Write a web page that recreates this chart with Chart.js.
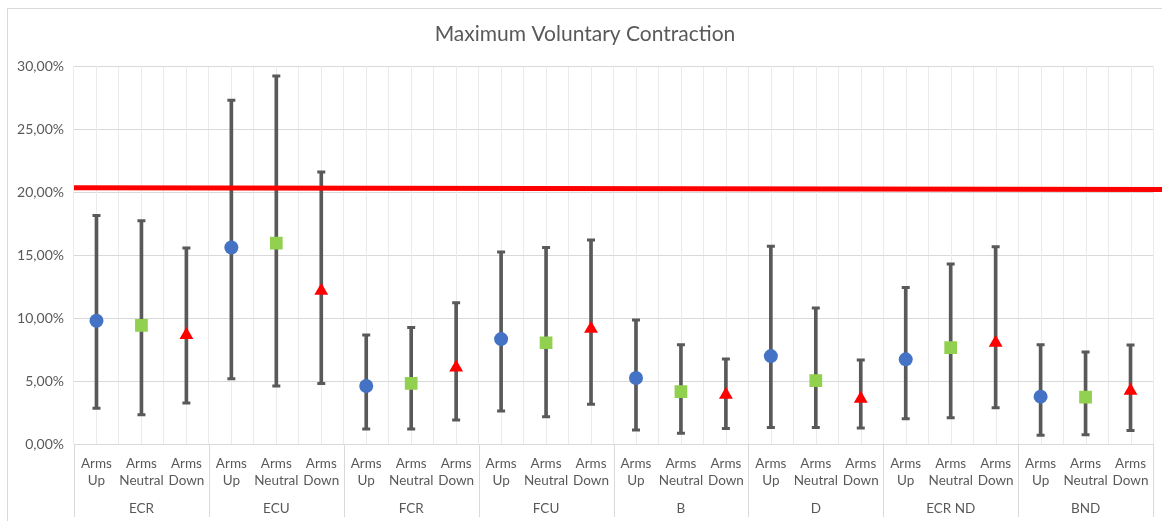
<!DOCTYPE html>
<html>
<head>
<meta charset="utf-8">
<script src="https://cdn.jsdelivr.net/npm/chart.js@4"></script>
<style>
  html, body { margin: 0; padding: 0; background: #ffffff; }
  canvas { display: block; }
</style>
</head>
<body>
<canvas id="c" width="1162" height="521"></canvas>
<script>
// ---- Data (values in %) ----
const groups = ['ECR', 'ECU', 'FCR', 'FCU', 'B', 'D', 'ECR ND', 'BND'];
const positions = [['Arms', 'Up'], ['Arms', 'Neutral'], ['Arms', 'Down']];

const upMean      = [9.79, 15.60, 4.60, 8.33, 5.24, 6.98, 6.72, 3.76];
const upHigh      = [18.15, 27.30, 8.65, 15.24, 9.84, 15.71, 12.43, 7.88];
const upLow       = [2.83, 5.19, 1.19, 2.62, 1.11, 1.32, 2.01, 0.69];

const neutralMean = [9.42, 15.95, 4.81, 8.04, 4.15, 5.03, 7.65, 3.73];
const neutralHigh = [17.72, 29.23, 9.26, 15.60, 7.88, 10.79, 14.29, 7.30];
const neutralLow  = [2.33, 4.60, 1.19, 2.17, 0.85, 1.32, 2.09, 0.74];

const downMean    = [8.65, 12.17, 6.08, 9.15, 3.92, 3.60, 8.04, 4.23];
const downHigh    = [15.56, 21.60, 11.22, 16.19, 6.75, 6.67, 15.66, 7.86];
const downLow     = [3.25, 4.81, 1.90, 3.15, 1.24, 1.27, 2.88, 1.08];

// reference (threshold) line, start and end value
const refLine = [20.35, 20.20];

const yTicks = [0, 5, 10, 15, 20, 25, 30];

// ---- Build flat arrays ----
const labels = [], means = [], highs = [], lows = [], styles = [], colors = [], radii = [];
const markerStyle = ['circle', 'rect', 'triangle'];
const markerColor = ['#4472C4', '#92D050', '#FF0000'];
const markerRadius = [7, 9, 8];
groups.forEach((g, i) => {
  const m = [upMean[i], neutralMean[i], downMean[i]];
  const h = [upHigh[i], neutralHigh[i], downHigh[i]];
  const l = [upLow[i], neutralLow[i], downLow[i]];
  for (let k = 0; k < 3; k++) {
    labels.push(positions[k]);
    means.push(m[k]); highs.push(h[k]); lows.push(l[k]);
    styles.push(markerStyle[k]); colors.push(markerColor[k]); radii.push(markerRadius[k]);
  }
});

const FONT = 'Lato, "Open Sans", sans-serif';
const TXT = '#595959';

const framePlugin = {
  id: 'frame',
  beforeDraw(chart) {
    const ctx = chart.ctx;
    ctx.save();
    ctx.strokeStyle = '#d9d9d9';
    ctx.lineWidth = 1;
    ctx.strokeRect(7.5, 8.5, 3000, 3000);
    ctx.restore();
  },
  beforeDatasetsDraw(chart) {
    const {ctx, chartArea: a, scales: {x}} = chart;
    ctx.save();
    ctx.strokeStyle = '#ebebeb';
    ctx.lineWidth = 1;
    for (let i = 0; i < labels.length; i++) {
      const px = Math.round(x.getPixelForValue(i)) + 0.5;
      ctx.beginPath(); ctx.moveTo(px, a.top); ctx.lineTo(px, a.bottom); ctx.stroke();
    }
    ctx.restore();
  },
  afterDatasetsDraw(chart) {
    const {ctx, chartArea: a, scales: {y}} = chart;
    ctx.save();
    ctx.strokeStyle = '#FF0000';
    ctx.lineWidth = 5;
    ctx.beginPath();
    ctx.moveTo(a.left, y.getPixelForValue(refLine[0]));
    ctx.lineTo(chart.width, y.getPixelForValue(refLine[1]));
    ctx.stroke();
    ctx.restore();
  },
  afterDraw(chart) {
    const {ctx, chartArea: a} = chart;
    ctx.save();
    ctx.strokeStyle = '#d9d9d9';
    ctx.lineWidth = 1;
    const w = (a.right - a.left) / groups.length;
    for (let g = 0; g <= groups.length; g++) {
      const px = Math.round(a.left + g * w) + 0.5;
      ctx.beginPath(); ctx.moveTo(px, a.bottom); ctx.lineTo(px, 517); ctx.stroke();
    }
    ctx.restore();
  }
};

new Chart(document.getElementById('c'), {
  type: 'bar',
  data: {
    labels: labels,
    datasets: [
      {
        type: 'line', label: 'Mean', data: means, order: 0,
        showLine: false, pointStyle: styles, pointRadius: radii,
        pointBackgroundColor: colors, pointBorderColor: colors, pointBorderWidth: 0,
        xAxisID: 'x', yAxisID: 'y'
      },
      {
        type: 'line', label: 'High', data: highs, order: 1,
        showLine: false, pointStyle: 'line', pointRadius: 4,
        pointBorderColor: '#595959', pointBorderWidth: 3,
        xAxisID: 'x', yAxisID: 'y'
      },
      {
        type: 'line', label: 'Low', data: lows, order: 1,
        showLine: false, pointStyle: 'line', pointRadius: 4,
        pointBorderColor: '#595959', pointBorderWidth: 3,
        xAxisID: 'x', yAxisID: 'y'
      },
      {
        type: 'bar', label: 'Range', order: 2,
        data: lows.map((l, i) => [l, highs[i]]),
        backgroundColor: '#595959', borderWidth: 0, barThickness: 3,
        xAxisID: 'x', yAxisID: 'y'
      }
    ]
  },
  options: {
    responsive: false,
    animation: false,
    events: [],
    layout: { padding: { left: 17, right: 9, top: 0, bottom: 0 } },
    plugins: {
      legend: { display: false },
      tooltip: { enabled: false },
      title: {
        display: true,
        text: 'Maximum Voluntary Contraction',
        color: TXT,
        font: { family: FONT, size: 21, weight: 'normal' },
        padding: { top: 22, bottom: 19 }
      }
    },
    scales: {
      x: {
        type: 'category', position: 'bottom', offset: true,
        grid: { offset: true, color: '#ebebeb', drawTicks: false },
        border: { display: true, color: '#d9d9d9' },
        ticks: {
          color: TXT, font: { family: FONT, size: 13.5 }, padding: 12,
          autoSkip: false, maxRotation: 0, minRotation: 0
        },
        afterFit(s) { s.height = 44; }
      },
      x2: {
        type: 'category', position: 'bottom', offset: true,
        labels: groups,
        grid: { display: false, drawTicks: false },
        border: { display: false },
        ticks: { color: TXT, font: { family: FONT, size: 13.5 }, padding: 13, maxRotation: 0, autoSkip: false },
        afterFit(s) { s.height = 33; }
      },
      y: {
        min: 0, max: 30,
        afterBuildTicks(s) { s.ticks = yTicks.map(v => ({ value: v })); },
        grid: { color: '#d9d9d9', drawTicks: false },
        border: { display: false },
        ticks: {
          color: TXT, font: { family: FONT, size: 14 }, padding: 10,
          callback: v => v.toFixed(2).replace('.', ',') + '%'
        },
        afterFit(s) { s.width = 57; }
      }
    }
  },
  plugins: [framePlugin]
});
</script>
</body>
</html>
